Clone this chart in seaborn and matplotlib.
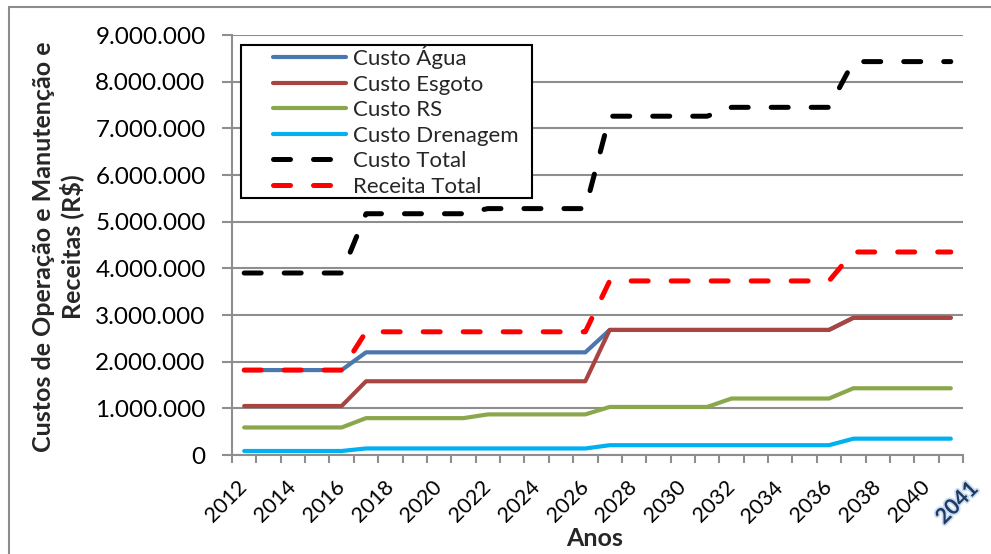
import matplotlib
matplotlib.use("Agg")
import matplotlib.pyplot as plt
import matplotlib.patheffects as pe
from matplotlib.patches import Rectangle
from matplotlib.ticker import FuncFormatter, FixedLocator
import seaborn as sns

# ---- data (R$ per year) ----
anos = [2012, 2013, 2014, 2015, 2016, 2017, 2018, 2019, 2020, 2021,
        2022, 2023, 2024, 2025, 2026, 2027, 2028, 2029, 2030, 2031,
        2032, 2033, 2034, 2035, 2036, 2037, 2038, 2039, 2040, 2041]

custo_agua = [1820000, 1820000, 1820000, 1820000, 1820000,
              2200000, 2200000, 2200000, 2200000, 2200000,
              2200000, 2200000, 2200000, 2200000, 2200000,
              2680000, 2680000, 2680000, 2680000, 2680000,
              2680000, 2680000, 2680000, 2680000, 2680000,
              2940000, 2940000, 2940000, 2940000, 2940000]

custo_esgoto = [1050000, 1050000, 1050000, 1050000, 1050000,
                1580000, 1580000, 1580000, 1580000, 1580000,
                1580000, 1580000, 1580000, 1580000, 1580000,
                2680000, 2680000, 2680000, 2680000, 2680000,
                2680000, 2680000, 2680000, 2680000, 2680000,
                2940000, 2940000, 2940000, 2940000, 2940000]

custo_rs = [590000, 590000, 590000, 590000, 590000,
            790000, 790000, 790000, 790000, 790000,
            870000, 870000, 870000, 870000, 870000,
            1030000, 1030000, 1030000, 1030000, 1030000,
            1210000, 1210000, 1210000, 1210000, 1210000,
            1430000, 1430000, 1430000, 1430000, 1430000]

custo_drenagem = [86000, 86000, 86000, 86000, 86000,
                  140000, 140000, 140000, 140000, 140000,
                  140000, 140000, 140000, 140000, 140000,
                  210000, 210000, 210000, 210000, 210000,
                  210000, 210000, 210000, 210000, 210000,
                  350000, 350000, 350000, 350000, 350000]

custo_total = [3900000, 3900000, 3900000, 3900000, 3900000,
               5170000, 5170000, 5170000, 5170000, 5170000,
               5280000, 5280000, 5280000, 5280000, 5280000,
               7260000, 7260000, 7260000, 7260000, 7260000,
               7450000, 7450000, 7450000, 7450000, 7450000,
               8430000, 8430000, 8430000, 8430000, 8430000]

receita_total = [1820000, 1820000, 1820000, 1820000, 1820000,
                 2640000, 2640000, 2640000, 2640000, 2640000,
                 2640000, 2640000, 2640000, 2640000, 2640000,
                 3730000, 3730000, 3730000, 3730000, 3730000,
                 3730000, 3730000, 3730000, 3730000, 3730000,
                 4350000, 4350000, 4350000, 4350000, 4350000]

nomes = ["Custo Água", "Custo Esgoto", "Custo RS", "Custo Drenagem",
         "Custo Total", "Receita Total"]
series = [custo_agua, custo_esgoto, custo_rs, custo_drenagem,
          custo_total, receita_total]
cores = ["#4a78ae", "#a94541", "#8aa84b", "#00b0f0", "#000000", "#ff0000"]
tracejado = [False, False, False, False, True, True]

y_ticks = [0, 1000000, 2000000, 3000000, 4000000, 5000000,
           6000000, 7000000, 8000000, 9000000]
x_labels = [2012, 2014, 2016, 2018, 2020, 2022, 2024, 2026,
            2028, 2030, 2032, 2034, 2036, 2038, 2040]

# ---- style ----
sns.set_theme(style="white")
plt.rcParams["font.family"] = ["Lato", "DejaVu Sans"]
grid_grey = "#8e8e8e"

W, H = 991, 554
fig = plt.figure(figsize=(W / 100, H / 100), dpi=100)
fig.patch.set_facecolor("white")
ax = fig.add_axes([232 / W, 1 - 455 / H, 731 / W, 420 / H])

for nome, vals, cor, dash in zip(nomes, series, cores, tracejado):
    sns.lineplot(x=anos, y=vals, ax=ax, color=cor,
                 linewidth=3.6 if dash else 3.0, label=nome, legend=False)
    ln = ax.get_lines()[-1]
    ln.set_solid_capstyle("round")
    ln.set_dash_capstyle("round")
    ln.set_zorder(3)
    if dash:
        ln.set_dashes((3.4, 4.6))

# axes limits / ticks
ax.set_xlim(2011.5, 2041.5)
ax.set_ylim(0, 9000000)
ax.yaxis.set_major_locator(FixedLocator(y_ticks))
ax.yaxis.set_major_formatter(
    FuncFormatter(lambda v, p: f"{int(round(v)):,}".replace(",", ".")))
ax.xaxis.set_major_locator(FixedLocator(x_labels))
ax.xaxis.set_minor_locator(FixedLocator([a - 0.5 for a in anos] + [anos[-1] + 0.5]))

ax.grid(axis="y", color=grid_grey, linewidth=1.5)
ax.grid(axis="x", visible=False)
ax.set_axisbelow(True)
for s in ["top", "right"]:
    ax.spines[s].set_visible(False)
for s in ["left", "bottom"]:
    ax.spines[s].set_color(grid_grey)
    ax.spines[s].set_linewidth(1.5)

ax.tick_params(axis="y", which="major", direction="out", length=7, width=1.5,
               color=grid_grey, labelsize=17.5, pad=12, left=True, labelcolor="black")
ax.tick_params(axis="x", which="major", length=0, labelsize=15.5, pad=21,
               labelcolor="black", labelrotation=45)
ax.tick_params(axis="x", which="minor", direction="out", length=6, width=1.5,
               color=grid_grey, bottom=True)
for lbl in ax.get_xticklabels():
    lbl.set_ha("right")
    lbl.set_va("center")
    lbl.set_rotation_mode("anchor")

ax.set_xlabel("")
ax.set_ylabel("")

# final year label at the end of the axis
fig.text(957 / W, 1 - 503 / H, "2041", rotation=45, ha="center", va="center",
         fontsize=15.5, fontweight="bold", color="#1f3a63",
         path_effects=[pe.withStroke(linewidth=2.5, foreground="#c9dcf2")])

# axis titles
fig.text(58 / W, 1 - 247 / H, "Custos de Operação e Manutenção e\nReceitas (R$)",
         rotation=90, ha="center", va="center", multialignment="center",
         fontsize=18, fontweight="bold", linespacing=1.2)
fig.text(595 / W, 1 - 539 / H, "Anos", ha="center", va="center",
         fontsize=18, fontweight="bold")

# legend: white box with black frame, entries inside
ax.add_patch(Rectangle((241 / W, 1 - 198 / H), 291 / W, 153 / H,
                       transform=fig.transFigure, facecolor="white",
                       edgecolor="black", linewidth=1.5, zorder=4,
                       clip_on=False))
leg = ax.legend(ax.get_lines(), nomes, loc="upper left",
                bbox_to_anchor=(273 / W, 1 - 45 / H),
                bbox_transform=fig.transFigure, frameon=False,
                fontsize=16, handlelength=3.3, handletextpad=0.3,
                labelspacing=0.25, borderpad=0, borderaxespad=0)
leg.set_zorder(5)

# outer chart-area border
fig.patches.append(Rectangle((9 / W, -0.1), 1.2, 1 - 7 / H + 0.1,
                             transform=fig.transFigure, fill=False,
                             edgecolor="#8c8c8c", linewidth=1.5))

fig.savefig("out.png", dpi=100)
